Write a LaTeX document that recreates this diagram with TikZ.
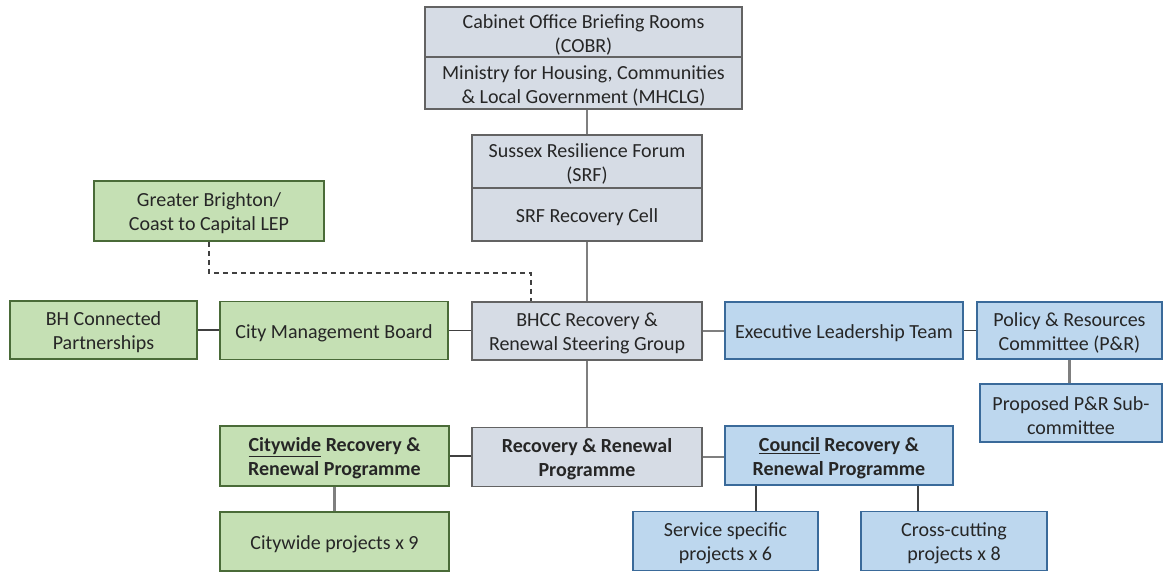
\documentclass[tikz,border=0pt]{standalone}
\usepackage{fontspec}
\setmainfont{Carlito}
\usetikzlibrary{calc}

\definecolor{greyfill}{HTML}{D6DCE5}
\definecolor{greyline}{HTML}{636363}
\definecolor{greenfill}{HTML}{C5E0B4}
\definecolor{greenline}{HTML}{4A6B38}
\definecolor{bluefill}{HTML}{BDD7EE}
\definecolor{blueline}{HTML}{3A6A9A}
\definecolor{linkgrey}{HTML}{7F7F7F}
\definecolor{linkdark}{HTML}{404040}
\definecolor{inktext}{HTML}{262626}

\tikzset{
  x=1pt, y=-1pt,
  box/.style={rectangle, line width=1.6pt, inner sep=0pt},
  greybox/.style={box, fill=greyfill, draw=greyline},
  greenbox/.style={box, fill=greenfill, draw=greenline},
  bluebox/.style={box, fill=bluefill, draw=blueline},
  wd/.style={minimum width=#1},
  ht/.style={minimum height=#1},
  % captions sit slightly below the geometric centre of their box
  caption/.style={align=center, inner sep=0pt, text=inktext, yshift=-2.5pt,
    font=\fontsize{20}{24}\selectfont},
  boldcaption/.style={caption, font=\fontsize{20}{24}\selectfont\bfseries},
  linkthick/.style={draw=linkgrey, line width=2.2pt},
  linkthin/.style={draw=linkdark, line width=1.4pt},
  linkdash/.style={draw=linkdark, line width=1.4pt, dashed, dash pattern=on 5pt off 4pt},
}

\begin{document}
\begin{tikzpicture}
\useasboundingbox (0,0) rectangle (1164,571);

% national level
\node[greybox, wd=317, ht=50] (cobr) at (583.5,32) {};
\node[caption] (cobrT) at (cobr) {Cabinet Office Briefing Rooms\\(COBR)};
\node[greybox, wd=317, ht=52] (mhclg) at (583.5,83) {};
\node[caption] (mhclgT) at (mhclg) {Ministry for Housing, Communities\\\& Local Government (MHCLG)};

% Sussex resilience forum
\node[greybox, wd=230, ht=53] (srf) at (587,161.5) {};
\node[caption] (srfT) at (srf) {Sussex Resilience Forum\\(SRF)};
\node[greybox, wd=230, ht=53] (cell) at (587,214.5) {};
\node[caption] (cellT) at (cell) {SRF Recovery Cell};

% partnerships row
\node[greenbox, wd=230, ht=60] (gb) at (209,211) {};
\node[caption] (gbT) at (gb) {Greater Brighton/\\Coast to Capital LEP};
\node[greenbox, wd=187, ht=58] (bhc) at (103.5,330) {};
\node[caption] (bhcT) at (bhc) {BH Connected\\Partnerships};
\node[greenbox, wd=228, ht=58] (cmb) at (334,330.5) {};
\node[caption] (cmbT) at (cmb) {City Management Board};
\node[greybox, wd=230, ht=58] (bhcc) at (587,331) {};
\node[caption] (bhccT) at (bhcc) {BHCC Recovery \&\\Renewal Steering Group};
\node[bluebox, wd=238, ht=57] (elt) at (844,330.5) {};
\node[caption] (eltT) at (elt) {Executive Leadership Team};
\node[bluebox, wd=185, ht=57] (pr) at (1069.5,330.5) {};
\node[caption] (prT) at (pr) {Policy \& Resources\\Committee (P\&R)};
\node[bluebox, wd=182, ht=58] (sub) at (1071,413) {};
\node[caption] (subT) at (sub) {Proposed P\&R Sub-\\committee};

% programmes
\node[greenbox, wd=229, ht=60] (cwr) at (334.5,456) {};
\node[boldcaption] (cwrT) at (cwr) {\underline{Citywide} Recovery \&\\Renewal Programme};
\node[greybox, wd=230, ht=59] (rrp) at (587,457) {};
\node[boldcaption] (rrpT) at (rrp) {Recovery \& Renewal\\Programme};
\node[bluebox, wd=228, ht=59] (crr) at (839,455.5) {};
\node[boldcaption] (crrT) at (crr) {\underline{Council} Recovery \&\\Renewal Programme};

% projects
\node[greenbox, wd=229, ht=59] (cwp) at (334.5,541.5) {};
\node[caption] (cwpT) at (cwp) {Citywide projects x 9};
\node[bluebox, wd=185, ht=59] (ssp) at (725.5,541) {};
\node[caption] (sspT) at (ssp) {Service specific\\projects x 6};
\node[bluebox, wd=186, ht=59] (ccp) at (954,541) {};
\node[caption] (ccpT) at (ccp) {Cross-cutting\\projects x 8};

% connector bends
\coordinate (dj) at (531,273);
\coordinate (sx) at (756,0);
\coordinate (cx) at (918,0);

% connectors
\draw[linkthick] (mhclg.south -| srf.north) -- (srf.north);
\draw[linkthick] (cell.south) -- (bhcc.north);
\draw[linkthick] (bhcc.south) -- (rrp.north);
\draw[linkdash] (gb.south) |- (dj) -- (dj |- bhcc.north);
\draw[linkthin] (bhc.east) -- (bhc.east -| cmb.west);
\draw[linkthin] (cmb.east) -- (cmb.east -| bhcc.west);
\draw[linkthick] (bhcc.east) -- (bhcc.east -| elt.west);
\draw[linkthin] (elt.east) -- (elt.east -| pr.west);
\draw[linkthick] (pr.south) -- (pr.south |- sub.north);
\draw[linkthin] (cwr.east) -- (cwr.east -| rrp.west);
\draw[linkthick] (rrp.east) -- (rrp.east -| crr.west);
\draw[linkthick] (cwr.south) -- (cwr.south |- cwp.north);
\draw[linkthin] (sx |- crr.south) -- (sx |- ssp.north);
\draw[linkthin] (cx |- crr.south) -- (cx |- ccp.north);
\end{tikzpicture}
\end{document}
